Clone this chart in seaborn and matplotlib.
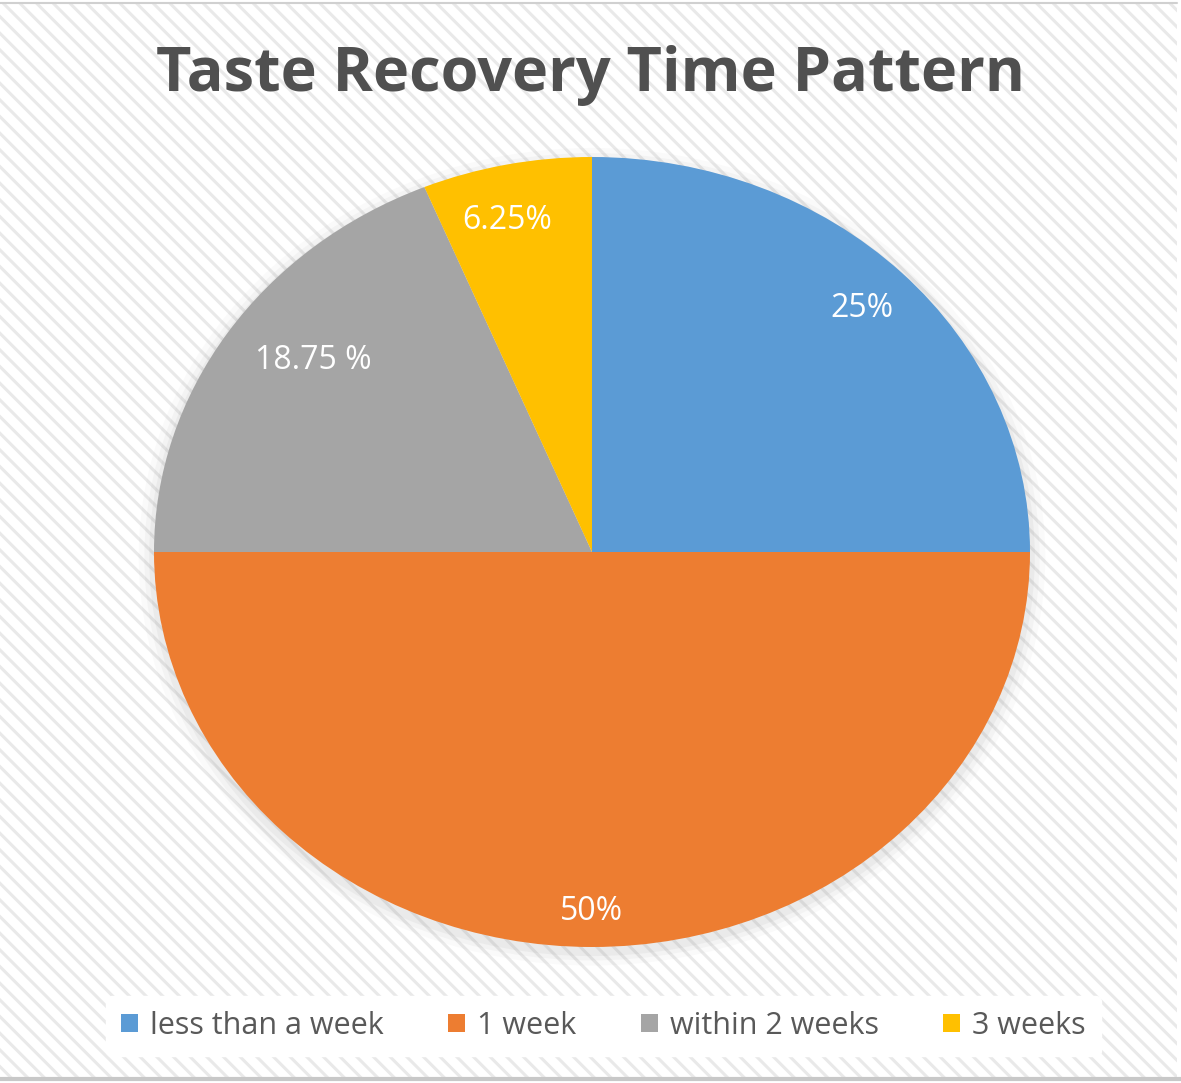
import numpy as np
import matplotlib
matplotlib.use("Agg")
import matplotlib.pyplot as plt
import seaborn as sns
from matplotlib.patches import Rectangle, Ellipse

categories = ["less than a week", "1 week", "within 2 weeks", "3 weeks"]
values = [25, 50, 18.75, 6.25]
value_labels = ["25%", "50%", "18.75 %", "6.25%"]
title = "Taste Recovery Time Pattern"

sns.set_theme(style="white")
plt.rcParams['font.family'] = ['Open Sans', 'DejaVu Sans']
plt.rcParams['hatch.linewidth'] = 2.2
plt.rcParams['hatch.color'] = '#e9e9e9'

colors = sns.color_palette(["#5B9BD5", "#ED7D31", "#A5A5A5", "#FFC000"])

W, H = 1181, 1083
fig = plt.figure(figsize=(W / 100, H / 100), dpi=100)
fig.patch.set_facecolor('white')

# hatched background panel
bg = fig.add_axes([0, 0, 1, 1], zorder=0)
bg.set_xlim(0, W); bg.set_ylim(H, 0); bg.axis('off')
bg.add_patch(Rectangle((0, 3), 1177, 1075, facecolor='white', edgecolor='#e9e9e9',
                       hatch='\\\\', linewidth=0))
bg.plot([0, 1177], [2.5, 2.5], color='#d0d0d0', lw=1.5)
bg.plot([0, W], [1079, 1079], color='#c8c8c8', lw=3)

# pie geometry (elliptical)
cx, cy, rx, ry = 592, 552, 438, 395
ax = fig.add_axes([(cx - rx) / W, 1 - (cy + ry) / H, 2 * rx / W, 2 * ry / H], zorder=1)
# soft shadow
for k, a in zip([1.035, 1.022, 1.011], [0.035, 0.05, 0.07]):
    ax.add_patch(Ellipse((0, -0.012), 2 * k, 2 * k, facecolor='#808080', alpha=a,
                         linewidth=0, zorder=0))
wedges, _ = ax.pie(values, colors=colors, startangle=90, counterclock=False,
                   radius=1, wedgeprops=dict(linewidth=0, zorder=2))
ax.set_aspect('auto')
ax.set_xlim(-1, 1); ax.set_ylim(-1, 1)
ax.axis('off')
for p in ax.patches:
    p.set_clip_on(False)

label_dist = [0.872, 0.911, 0.80, 0.862]
label_angle_shift = [0, 0, -3.5, 1.75]
for w, lab, d, s in zip(wedges, value_labels, label_dist, label_angle_shift):
    ang = np.deg2rad((w.theta1 + w.theta2) / 2 + s)
    ax.text(d * np.cos(ang), d * np.sin(ang), lab, ha='center', va='center',
            color='white', fontsize=23, fontweight='medium', zorder=5)

fig.text(0.5, 1 - 76 / H, title, ha='center', va='center', fontsize=44,
         fontweight='bold', color='#505050')

leg = fig.legend(wedges, categories, loc='center', bbox_to_anchor=(0.511, 1 - 1026 / H),
                 ncol=4, frameon=True, fontsize=22, handlelength=0.55, handleheight=0.55,
                 handletextpad=0.4, columnspacing=2.1, borderpad=0.5, labelcolor='#595959')
leg.get_frame().set_facecolor('white')
leg.get_frame().set_edgecolor('white')
leg.get_frame().set_alpha(1)

fig.savefig("out.png", dpi=100)
